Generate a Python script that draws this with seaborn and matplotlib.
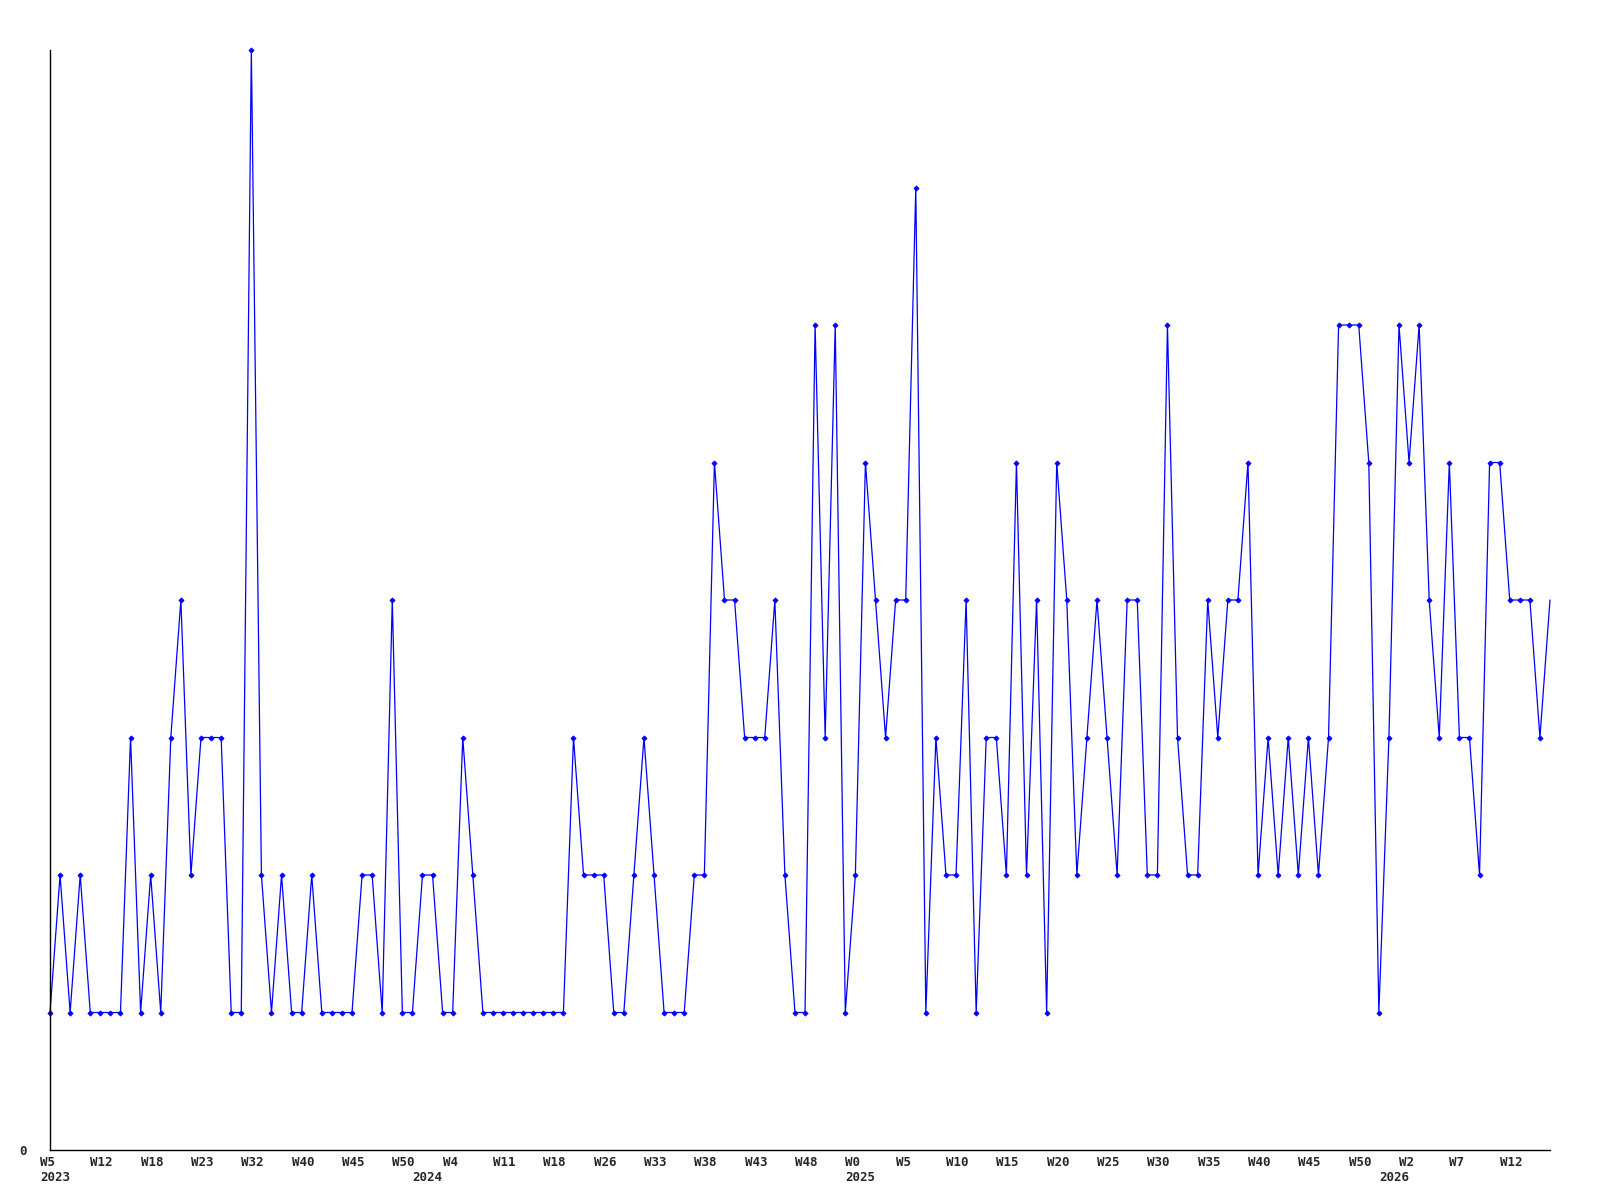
"""Weekly counts line chart, 2023-2026."""
import numpy as np
import pandas as pd
import matplotlib
matplotlib.use('Agg')
import matplotlib.pyplot as plt
import matplotlib.transforms as mtransforms
import seaborn as sns

# one value per week, oldest first
counts = [
    1, 2, 1, 2, 1, 1, 1, 1, 3, 1,
    2, 1, 3, 4, 2, 3, 3, 3, 1, 1,
    8, 2, 1, 2, 1, 1, 2, 1, 1, 1,
    1, 2, 2, 1, 4, 1, 1, 2, 2, 1,
    1, 3, 2, 1, 1, 1, 1, 1, 1, 1,
    1, 1, 3, 2, 2, 2, 1, 1, 2, 3,
    2, 1, 1, 1, 2, 2, 5, 4, 4, 3,
    3, 3, 4, 2, 1, 1, 6, 3, 6, 1,
    2, 5, 4, 3, 4, 4, 7, 1, 3, 2,
    2, 4, 1, 3, 3, 2, 5, 2, 4, 1,
    5, 4, 2, 3, 4, 3, 2, 4, 4, 2,
    2, 6, 3, 2, 2, 4, 3, 4, 4, 5,
    2, 3, 2, 3, 2, 3, 2, 3, 6, 6,
    6, 5, 1, 3, 6, 5, 6, 4, 3, 5,
    3, 3, 2, 5, 5, 4, 4, 4, 3, 4,
]

# a week label every 5th point
week_labels = [
    'W5', 'W12', 'W18', 'W23', 'W32', 'W40', 'W45', 'W50',
    'W4', 'W11', 'W18', 'W26', 'W33', 'W38', 'W43', 'W48',
    'W0', 'W5', 'W10', 'W15', 'W20', 'W25', 'W30', 'W35',
    'W40', 'W45', 'W50', 'W2', 'W7', 'W12',
]
years = ['2023', '2024', '2025', '2026']
year_pos = [0, 37, 80, 133]


def main():
    df = pd.DataFrame({'week': np.arange(len(counts)), 'count': counts})

    sns.set_style('white')
    plt.rcParams['font.family'] = ['DejaVu Sans Mono']
    plt.rcParams['font.weight'] = 'bold'

    fig = plt.figure(figsize=(16, 12), dpi=100)
    ax = fig.add_axes([50 / 1600, 50 / 1200, 1500 / 1600, 1100 / 1200])

    # last point sits on the right edge without a marker
    sns.lineplot(data=df, x='week', y='count', ax=ax, color='#0000ff',
                 linewidth=0.9, marker='D', markersize=2.6,
                 markeredgewidth=0.6, markeredgecolor='#0000ff',
                 markevery=list(range(len(counts) - 1)), clip_on=False)

    ax.set_xlim(0, len(counts) - 1)
    ax.set_ylim(0, 8)
    ax.set_xlabel('')
    ax.set_ylabel('')

    for side in ['top', 'right']:
        ax.spines[side].set_visible(False)
    for side in ['left', 'bottom']:
        ax.spines[side].set_color('black')
        ax.spines[side].set_linewidth(1.0)

    ax.set_yticks([0])
    ax.set_yticklabels(['0'])
    ax.tick_params(axis='y', length=0, pad=17, labelsize=9)

    ax.set_xticks(np.arange(0, len(counts), 5))
    ax.set_xticklabels(week_labels)
    ax.tick_params(axis='x', length=0, pad=4, labelsize=9)
    shift = mtransforms.ScaledTranslation(-10 / 100, 0, fig.dpi_scale_trans)
    for lab in ax.get_xticklabels():
        lab.set_horizontalalignment('left')
        lab.set_transform(lab.get_transform() + shift)

    year_trans = mtransforms.offset_copy(ax.get_xaxis_transform(), fig=fig,
                                         x=-10, y=-21, units='dots')
    for pos, year in zip(year_pos, years):
        ax.text(pos, 0, year, transform=year_trans, ha='left', va='top',
                fontsize=9, fontweight='bold')

    ax.grid(False)
    fig.savefig('out.png', dpi=100)
    plt.close(fig)


if __name__ == '__main__':
    main()
